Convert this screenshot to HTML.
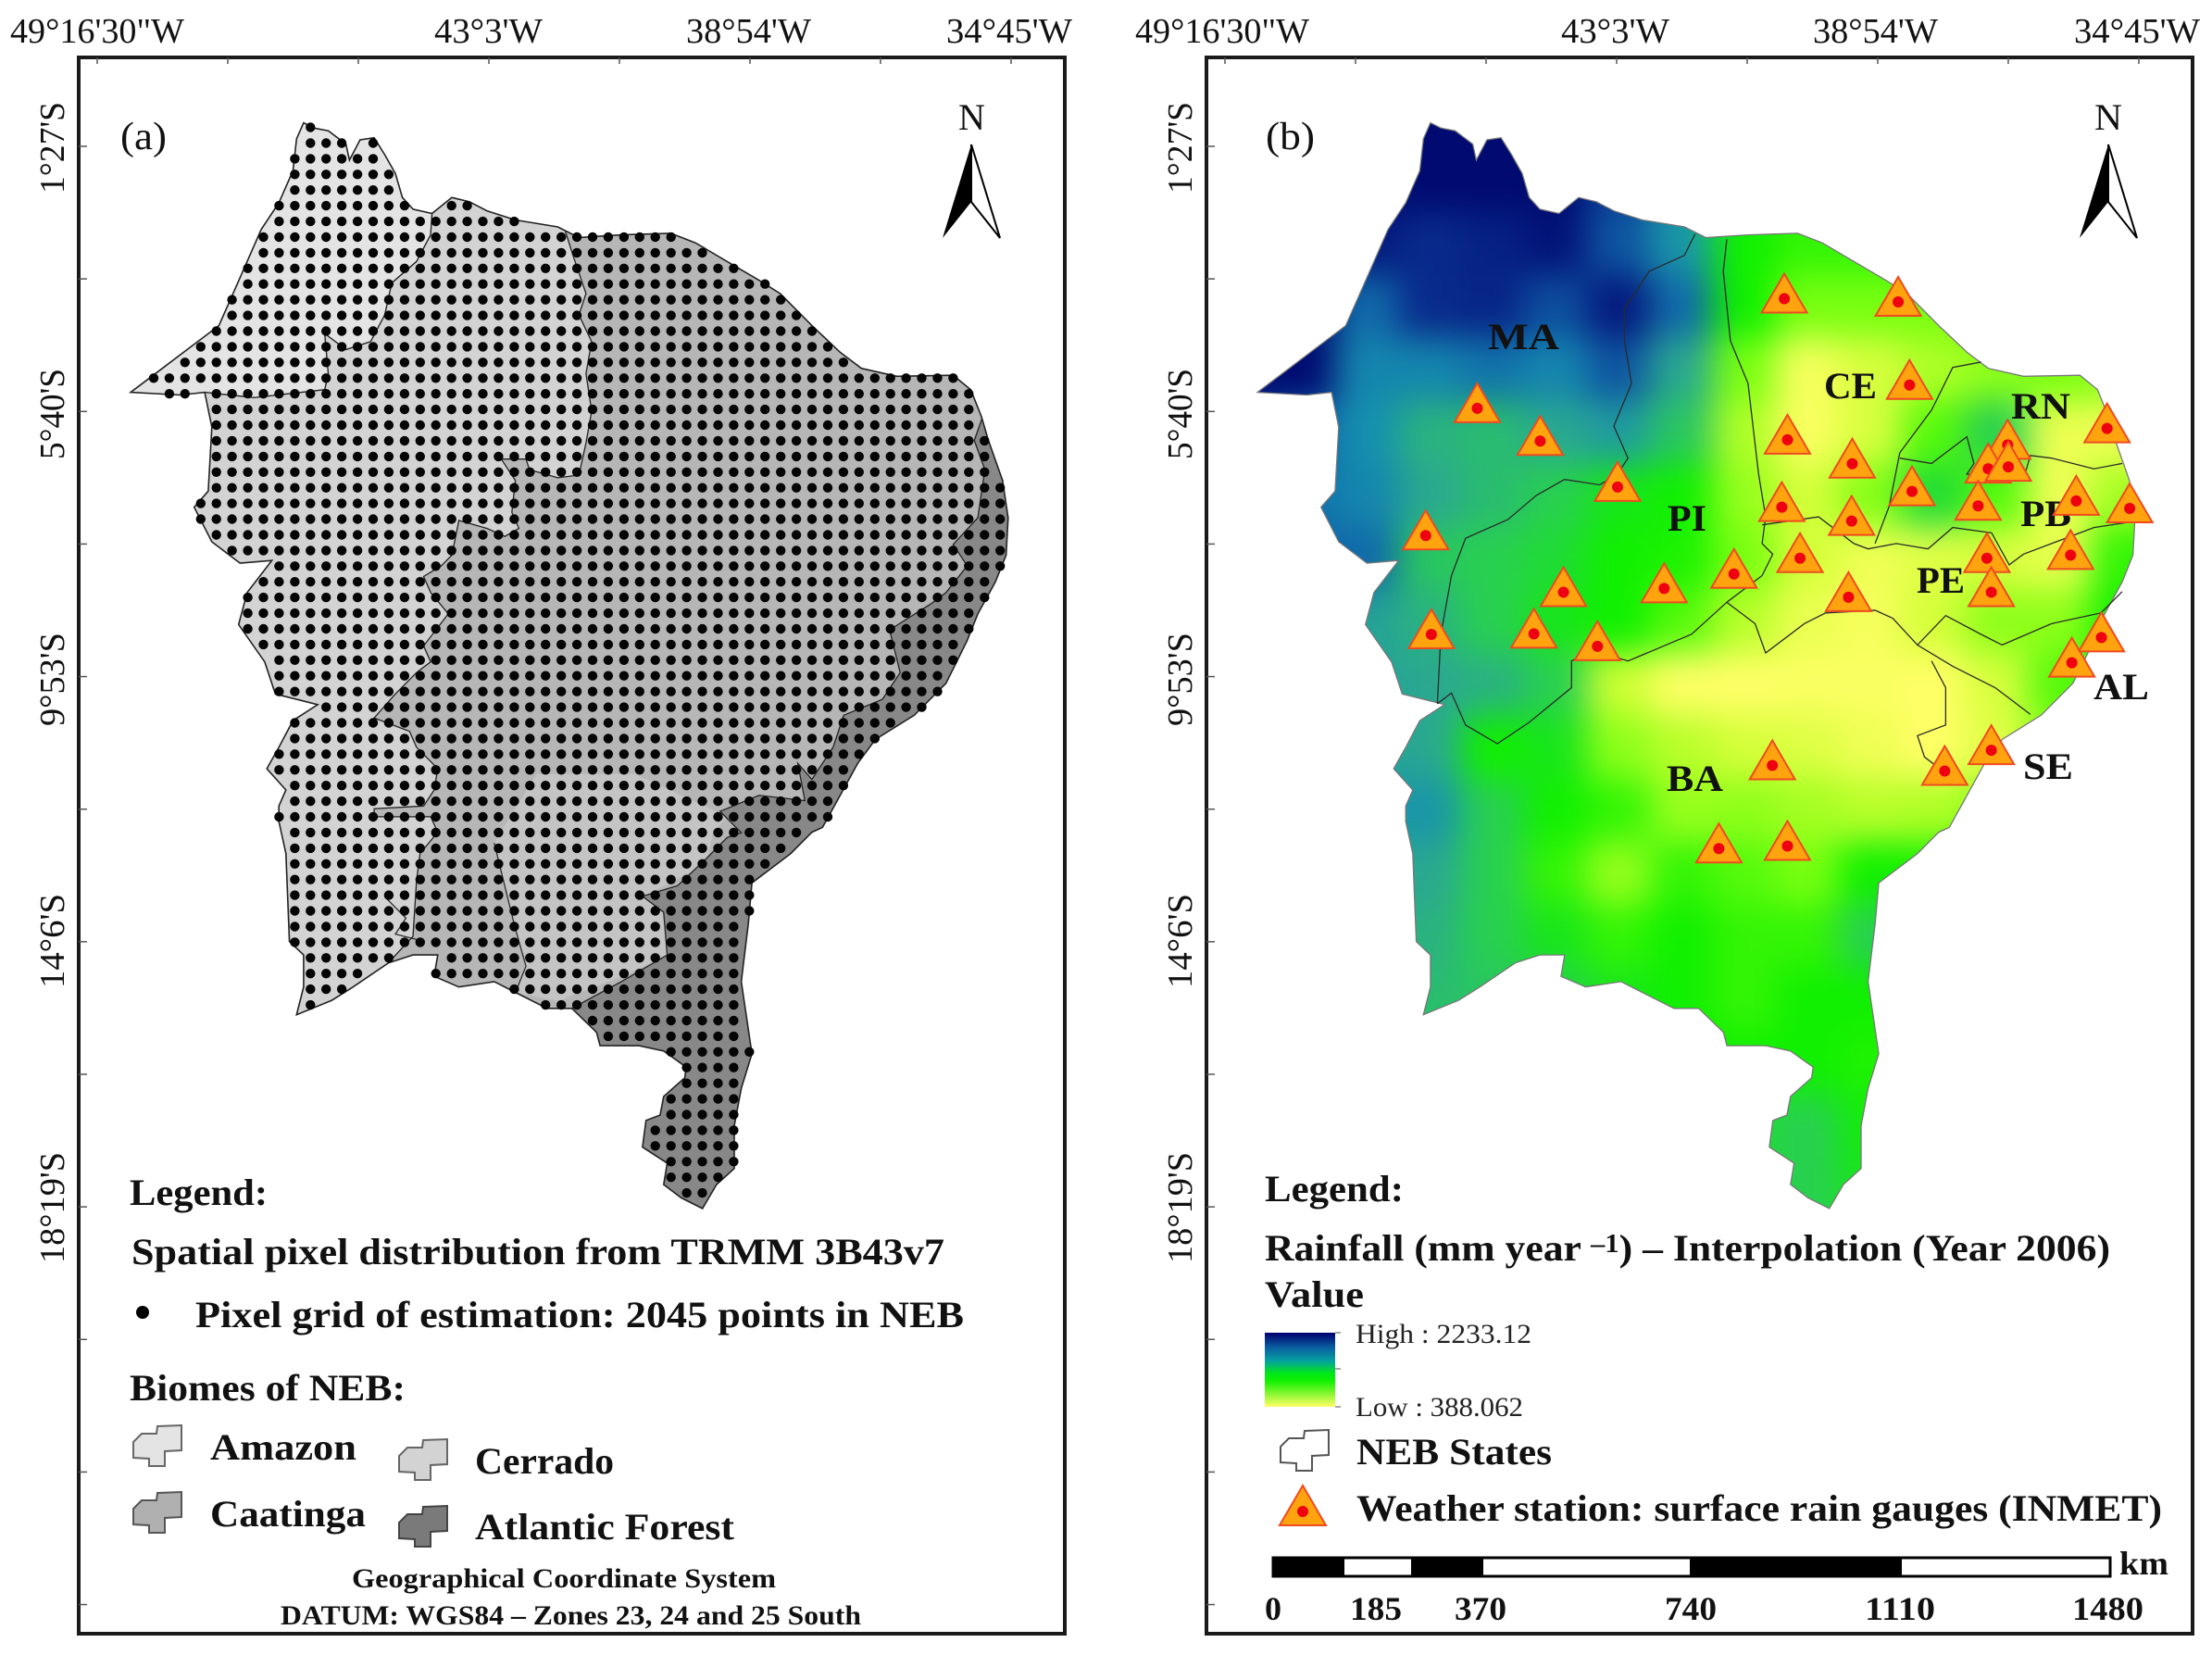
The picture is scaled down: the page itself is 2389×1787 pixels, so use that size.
<!DOCTYPE html>
<html lang="en">
<head>
<meta charset="utf-8">
<title>NEB biomes and rainfall maps</title>
<style>
html,body{margin:0;padding:0;background:#fff;}
svg{display:block;}
text{font-family:"Liberation Serif",serif;fill:#111;}
.ax{font-size:38px;}
.lg{font-size:40px;font-weight:700;}
.st{font-size:40px;font-weight:700;}
.sm{font-size:30px;font-weight:700;}
.sc{font-size:36px;font-weight:700;}
.reg{font-size:30px;fill:#222;}
.frame{fill:none;stroke:#1a1a1a;stroke-width:4;}
.border{fill:none;stroke:#2b2b2b;stroke-width:1.3;}
</style>
</head>
<body>
<svg id="fig" xmlns="http://www.w3.org/2000/svg" width="2389" height="1787" viewBox="0 0 2389 1787">
<defs>
<linearGradient id="ramp" x1="0" y1="0" x2="0" y2="1">
<stop offset="0" stop-color="#00006e"/><stop offset="0.2" stop-color="#0a5fa0"/><stop offset="0.38" stop-color="#04a0a0"/><stop offset="0.55" stop-color="#00e818"/><stop offset="0.65" stop-color="#10f000"/><stop offset="1" stop-color="#ffff66"/>
</linearGradient>
<clipPath id="clipA"><polygon id="clipPolyA"/></clipPath>
<clipPath id="clipB"><polygon id="clipPolyB"/></clipPath>
<filter id="soft" x="-10%" y="-10%" width="120%" height="120%" color-interpolation-filters="sRGB"><feGaussianBlur stdDeviation="19"/></filter>
</defs>
<rect width="2389" height="1787" fill="#fff"/>

<!-- Panel A -->
<g id="panelA">
  <rect class="frame" x="85" y="62" width="1065" height="1702"/>
  <g id="ticksA"></g>
  <g clip-path="url(#clipA)">
    <polygon id="baseA" fill="#b6b6b6"/>
    <g transform="matrix(0.7625 0 0 0.57637 0 0)">
      <polygon fill="#e4e4e4" stroke="#222" stroke-width="1.3" vector-effect="non-scaling-stroke" points="150,760 150,200 612,200 612,400 610,440 590,490 555,530 545,590 525,640 490,655 460,625 465,700 460,730 360,745 290,735"/>
      <polygon fill="#d3d3d3" stroke="#222" stroke-width="1.3" vector-effect="non-scaling-stroke" points="612,400 640,350 800,400 800,430 812,480 830,550 820,590 838,640 830,700 838,770 830,830 820,890 790,895 750,880 745,860 710,860 730,900 725,960 735,990 715,1005 690,990 650,975 640,1040 625,1060 600,1080 610,1110 635,1150 600,1210 610,1240 590,1260 560,1300 530,1345 580,1370 590,1400 620,1440 615,1480 600,1510 530,1515 530,1530 610,1530 620,1559 595,1599 590,1649 585,1754 550,1804 550,1950 250,1950 250,760 290,735 360,745 460,730 465,700 460,625 490,655 525,640 545,590 555,530 590,490 610,440"/>
      <polygon fill="#c4c4c4" points="700,1579 715,1660 730,1740 745,1810 730,1860 790,1875 880,1830 945,1790 940,1710 910,1680 1000,1620 1010,1560 1030,1530 900,1450 760,1450"/>
      <polygon fill="#888888" stroke="#222" stroke-width="1.3" vector-effect="non-scaling-stroke" points="1392,780 1380,825 1395,880 1385,970 1350,1020 1370,1060 1340,1110 1320,1130 1260,1180 1275,1260 1250,1310 1195,1340 1180,1400 1150,1460 1130,1430 1140,1500 1075,1490 1020,1520 1050,1560 1030,1569 1000,1609 960,1659 910,1679 940,1709 945,1789 880,1839 810,1889 850,2300 1100,2300 1500,1300 1500,780"/>
      <polyline class="border" vector-effect="non-scaling-stroke" points="700,1579 715,1660 730,1740 745,1810 730,1860"/>
      <polyline class="border" vector-effect="non-scaling-stroke" points="545,1680 575,1720 560,1750 590,1760"/>
    </g>
  </g>
  <polygon id="outlineA" fill="none" stroke="#222" stroke-width="1.6"/>
  <g id="dots" fill="#050505"></g>

  <text class="ax" x="11" y="46" textLength="188" lengthAdjust="spacingAndGlyphs">49°16'30"W</text>
  <text class="ax" x="469" y="46" textLength="117" lengthAdjust="spacingAndGlyphs">43°3'W</text>
  <text class="ax" x="741" y="46" textLength="135" lengthAdjust="spacingAndGlyphs">38°54'W</text>
  <text class="ax" x="1022" y="46" textLength="136" lengthAdjust="spacingAndGlyphs">34°45'W</text>
  <text class="ax" transform="translate(69 209) rotate(-90)" textLength="99" lengthAdjust="spacingAndGlyphs">1°27'S</text>
  <text class="ax" transform="translate(69 496) rotate(-90)" textLength="98" lengthAdjust="spacingAndGlyphs">5°40'S</text>
  <text class="ax" transform="translate(69 784) rotate(-90)" textLength="101" lengthAdjust="spacingAndGlyphs">9°53'S</text>
  <text class="ax" transform="translate(69 1067) rotate(-90)" textLength="102" lengthAdjust="spacingAndGlyphs">14°6'S</text>
  <text class="ax" transform="translate(69 1364) rotate(-90)" textLength="120" lengthAdjust="spacingAndGlyphs">18°19'S</text>

  <text x="130" y="161" font-size="42" textLength="50" lengthAdjust="spacingAndGlyphs">(a)</text>
  <g>
    <text x="1035" y="140" font-size="40" textLength="29" lengthAdjust="spacingAndGlyphs">N</text>
    <polygon points="1049,156 1018,257 1049,218" fill="#000"/>
    <polygon points="1049,156 1080,257 1049,218" fill="#fff" stroke="#000" stroke-width="2"/>
  </g>

  <text class="lg" x="140" y="1301" textLength="149" lengthAdjust="spacingAndGlyphs">Legend:</text>
  <text class="lg" x="142" y="1365" textLength="878" lengthAdjust="spacingAndGlyphs">Spatial pixel distribution from TRMM 3B43v7</text>
  <circle cx="154" cy="1417" r="7" fill="#000"/>
  <text class="lg" x="211" y="1433" textLength="830" lengthAdjust="spacingAndGlyphs">Pixel grid of estimation: 2045 points in NEB</text>
  <text class="lg" x="140" y="1512" textLength="298" lengthAdjust="spacingAndGlyphs">Biomes of NEB:</text>

  <polygon fill="#e4e4e4" stroke="#666" stroke-width="2" transform="translate(144 1539)" points="26,1 52,0 52,27 34,28 34,44 17,44 17,36 0,35 0,18 9,9 25,9"/>
  <polygon fill="#d3d3d3" stroke="#666" stroke-width="2" transform="translate(431 1554)" points="26,1 52,0 52,27 34,28 34,44 17,44 17,36 0,35 0,18 9,9 25,9"/>
  <polygon fill="#b0b0b0" stroke="#555" stroke-width="2" transform="translate(144 1611)" points="26,1 52,0 52,27 34,28 34,44 17,44 17,36 0,35 0,18 9,9 25,9"/>
  <polygon fill="#7a7a7a" stroke="#444" stroke-width="2" transform="translate(431 1626)" points="26,1 52,0 52,27 34,28 34,44 17,44 17,36 0,35 0,18 9,9 25,9"/>
  <text class="lg" x="227" y="1576" textLength="158" lengthAdjust="spacingAndGlyphs">Amazon</text>
  <text class="lg" x="513" y="1591" textLength="150" lengthAdjust="spacingAndGlyphs">Cerrado</text>
  <text class="lg" x="227" y="1648" textLength="168" lengthAdjust="spacingAndGlyphs">Caatinga</text>
  <text class="lg" x="513" y="1662" textLength="280" lengthAdjust="spacingAndGlyphs">Atlantic Forest</text>
  <text class="sm" x="380" y="1714" textLength="458" lengthAdjust="spacingAndGlyphs">Geographical Coordinate System</text>
  <text class="sm" x="303" y="1754" textLength="627" lengthAdjust="spacingAndGlyphs">DATUM: WGS84 – Zones 23, 24 and 25 South</text>
</g>

<!-- Panel B -->
<g id="panelB">
  <rect class="frame" x="1303" y="62" width="1065" height="1702"/>
  <g id="ticksB"></g>
  <g clip-path="url(#clipB)">
    <g id="heat" filter="url(#soft)"></g>
  </g>
  <polygon id="outlineB" fill="none" stroke="#777" stroke-width="1.3"/>
  <g transform="matrix(0.7625 0 0 0.57637 1194 -1)">
    <polyline class="border" vector-effect="non-scaling-stroke" points="835,440 820,480 770,510 735,580 735,640 745,720 720,800 740,860 725,890 700,910 650,900 610,930 570,975 510,1010 490,1080 475,1190 470,1320"/>
    <polyline class="border" vector-effect="non-scaling-stroke" points="470,1320 490,1300 510,1360 555,1395 600,1355 660,1290 660,1240 690,1220 740,1240 830,1190 880,1130 920,1170 935,1225 990,1170 1020,1150 1090,1145 1115,1160 1150,1210 1190,1155 1240,1190 1270,1210 1340,1170 1410,1150 1440,1110"/>
    <polyline class="border" vector-effect="non-scaling-stroke" points="880,450 875,510 885,640 910,720 925,890 935,970 930,1020 945,1040 930,1080 880,1130"/>
    <polyline class="border" vector-effect="non-scaling-stroke" points="930,985 1010,970 1060,1020 1080,1030 1120,1020 1165,1030 1200,990 1255,1000 1280,1060 1300,1040 1340,1020 1400,990 1450,980"/>
    <polyline class="border" vector-effect="non-scaling-stroke" points="1240,680 1200,690 1170,770 1125,850 1110,950 1090,1020"/>
    <polyline class="border" vector-effect="non-scaling-stroke" points="1125,860 1170,870 1220,820 1230,870 1220,890 1300,900 1310,855 1340,860 1400,880 1440,870"/>
    <polyline class="border" vector-effect="non-scaling-stroke" points="1150,1210 1200,1250 1260,1290 1310,1340"/>
    <polyline class="border" vector-effect="non-scaling-stroke" points="1170,1240 1190,1290 1190,1360 1150,1380 1160,1420 1190,1450"/>
  </g>

  <text class="st" x="1607" y="377" textLength="77" lengthAdjust="spacingAndGlyphs">MA</text>
  <text class="st" x="1970" y="430" textLength="57" lengthAdjust="spacingAndGlyphs">CE</text>
  <text class="st" x="2172" y="452" textLength="64" lengthAdjust="spacingAndGlyphs">RN</text>
  <text class="st" x="1801" y="573" textLength="42" lengthAdjust="spacingAndGlyphs">PI</text>
  <text class="st" x="2182" y="568" textLength="55" lengthAdjust="spacingAndGlyphs">PB</text>
  <text class="st" x="2070" y="640" textLength="52" lengthAdjust="spacingAndGlyphs">PE</text>
  <text class="st" x="2261" y="755" textLength="60" lengthAdjust="spacingAndGlyphs">AL</text>
  <text class="st" x="1800" y="854" textLength="61" lengthAdjust="spacingAndGlyphs">BA</text>
  <text class="st" x="2185" y="841" textLength="54" lengthAdjust="spacingAndGlyphs">SE</text>

  <g id="stations"></g>

  <text class="ax" x="1226" y="46" textLength="188" lengthAdjust="spacingAndGlyphs">49°16'30"W</text>
  <text class="ax" x="1686" y="46" textLength="117" lengthAdjust="spacingAndGlyphs">43°3'W</text>
  <text class="ax" x="1958" y="46" textLength="135" lengthAdjust="spacingAndGlyphs">38°54'W</text>
  <text class="ax" x="2240" y="46" textLength="136" lengthAdjust="spacingAndGlyphs">34°45'W</text>
  <text class="ax" transform="translate(1287 209) rotate(-90)" textLength="99" lengthAdjust="spacingAndGlyphs">1°27'S</text>
  <text class="ax" transform="translate(1287 496) rotate(-90)" textLength="98" lengthAdjust="spacingAndGlyphs">5°40'S</text>
  <text class="ax" transform="translate(1287 784) rotate(-90)" textLength="101" lengthAdjust="spacingAndGlyphs">9°53'S</text>
  <text class="ax" transform="translate(1287 1067) rotate(-90)" textLength="102" lengthAdjust="spacingAndGlyphs">14°6'S</text>
  <text class="ax" transform="translate(1287 1364) rotate(-90)" textLength="120" lengthAdjust="spacingAndGlyphs">18°19'S</text>

  <text x="1367" y="161" font-size="42" textLength="53" lengthAdjust="spacingAndGlyphs">(b)</text>
  <g>
    <text x="2262" y="140" font-size="40" textLength="30" lengthAdjust="spacingAndGlyphs">N</text>
    <polygon points="2277,156 2246,257 2277,218" fill="#000"/>
    <polygon points="2277,156 2308,257 2277,218" fill="#fff" stroke="#000" stroke-width="2"/>
  </g>

  <text class="lg" x="1366" y="1297" textLength="150" lengthAdjust="spacingAndGlyphs">Legend:</text>
  <text class="lg" x="1366" y="1361" textLength="913" lengthAdjust="spacingAndGlyphs">Rainfall (mm year <tspan font-size="28" dy="-9">–1</tspan><tspan dy="9">) – Interpolation (Year 2006)</tspan></text>
  <text class="lg" x="1366" y="1411" textLength="107" lengthAdjust="spacingAndGlyphs">Value</text>
  <rect x="1366" y="1439" width="76" height="80" fill="url(#ramp)"/>
  <path d="M1442 1439h6M1442 1478h6M1442 1519h6" stroke="#888" stroke-width="1.5"/>
  <text class="reg" x="1464" y="1450" textLength="190" lengthAdjust="spacingAndGlyphs">High : 2233.12</text>
  <text class="reg" x="1464" y="1529" textLength="181" lengthAdjust="spacingAndGlyphs">Low : 388.062</text>
  <polygon fill="#fff" stroke="#555" stroke-width="2" transform="translate(1383 1544)" points="26,1 52,0 52,27 34,28 34,44 17,44 17,36 0,35 0,18 9,9 25,9"/>
  <text class="lg" x="1465" y="1581" textLength="211" lengthAdjust="spacingAndGlyphs">NEB States</text>
  <g>
    <polygon points="1407,1604 1382,1647 1432,1647" fill="#ffa40f" stroke="#f04a20" stroke-width="2"/>
    <circle cx="1407" cy="1632" r="6" fill="#ee0011"/>
  </g>
  <text class="lg" x="1465" y="1642" textLength="870" lengthAdjust="spacingAndGlyphs">Weather station: surface rain gauges (INMET)</text>

  <g>
    <rect x="1375" y="1682" width="904" height="20" fill="#fff" stroke="#000" stroke-width="3"/>
    <rect x="1375" y="1681" width="77" height="22" fill="#000"/>
    <rect x="1524" y="1681" width="78" height="22" fill="#000"/>
    <rect x="1825" y="1681" width="229" height="22" fill="#000"/>
  </g>
  <text class="sc" x="2289" y="1700" textLength="53" lengthAdjust="spacingAndGlyphs">km</text>
  <text class="sc" x="1366" y="1749" textLength="18" lengthAdjust="spacingAndGlyphs">0</text>
  <text class="sc" x="1458" y="1749" textLength="56" lengthAdjust="spacingAndGlyphs">185</text>
  <text class="sc" x="1571" y="1749" textLength="56" lengthAdjust="spacingAndGlyphs">370</text>
  <text class="sc" x="1798" y="1749" textLength="56" lengthAdjust="spacingAndGlyphs">740</text>
  <text class="sc" x="2014" y="1749" textLength="76" lengthAdjust="spacingAndGlyphs">1110</text>
  <text class="sc" x="2238" y="1749" textLength="77" lengthAdjust="spacingAndGlyphs">1480</text>
</g>
</svg>

<script>
// ---- Data ----
const lonTicks = [-49.275,-47.2,-45.125,-43.05,-40.975,-38.9,-36.825,-34.75];
const latTicks = [-1.45,-3.555,-5.66,-7.765,-9.87,-11.975,-14.08,-16.185,-18.29,-20.395,-22.5,-24.605];

const stationLon = [-40.37,-38.56,-38.38,-45.25,-44.25,-35.24,-40.32,-39.29,-36.82,-37.13,-36.81,-43.02,-38.34,-37.29,-40.41,-39.30,-35.73,-34.88,-46.07,-40.12,-37.15,-35.82,-41.17,-43.88,-42.28,-37.08,-39.35,-45.98,-44.35,-43.34,-35.33,-35.80,-37.08,-40.56,-37.82,-41.41,-40.32];
const stationLat = [-3.87,-3.92,-5.24,-5.61,-6.13,-5.93,-6.11,-6.49,-6.19,-6.57,-6.54,-6.86,-6.93,-7.16,-7.18,-7.40,-7.08,-7.20,-7.63,-7.99,-7.99,-7.94,-8.24,-8.53,-8.47,-8.53,-8.61,-9.20,-9.19,-9.39,-9.25,-9.65,-11.04,-11.28,-11.37,-12.60,-12.56];

// Rainfall (mm/yr) estimated on a 1 degree grid
const rainLons = [-49,-48,-47,-46,-45,-44,-43,-42,-41,-40,-39,-38,-37,-36,-35,-34];
const rainLats = [0,-1,-2,-3,-4,-5,-6,-7,-8,-9,-10,-11,-12,-13,-14,-15,-16,-17,-18,-19];
const rainfall = [
[2233,2233,2233,2233,2233,2233,2000,1600,1000,950,950,950,900,850,800,800],
[2233,2233,2233,2233,2233,2233,2000,1600,1000,950,950,950,900,850,800,800],
[2233,2233,2233,2233,2233,2233,1950,1500,1000,950,950,950,900,850,800,800],
[2233,2233,2150,2050,2100,2180,1850,1500,1000,950,950,950,900,850,800,800],
[2233,2233,1750,2050,2080,1880,2150,1750,1000,850,850,850,850,850,800,800],
[2233,2233,1600,1600,1700,1600,1850,1350,850,470,600,720,800,850,800,800],
[2000,1800,1550,1300,1250,1350,1450,1200,720,450,600,900,1150,520,500,500],
[1800,1700,1600,1350,1250,1150,1050,1000,780,620,820,1100,900,500,750,750],
[1800,1800,1750,1200,1150,1100,1000,980,850,620,500,560,600,540,950,950],
[1500,1500,1400,1300,1150,1050,1000,900,700,520,470,620,800,800,1000,1000],
[1400,1400,1400,1350,1300,1150,650,440,400,450,450,420,600,900,950,950],
[1400,1400,1400,1350,1000,1050,800,700,620,580,500,420,560,800,900,900],
[1500,1500,1500,1500,1150,1000,950,780,800,750,700,720,800,800,800,800],
[1350,1350,1350,1350,1150,950,780,950,900,850,1000,1000,1000,1000,1000,1000],
[1300,1300,1300,1300,1150,1050,950,1000,950,950,1150,1150,1150,1150,1150,1150],
[1250,1250,1250,1250,1200,1150,1050,1000,950,1000,1000,1000,1000,1000,1000,1000],
[1100,1100,1100,1100,1100,1100,1050,1050,1000,1000,980,980,980,980,980,980],
[1100,1100,1100,1100,1100,1100,1100,1100,1100,1150,1020,1020,1020,1020,1020,1020],
[1100,1100,1100,1100,1100,1100,1100,1100,1100,1150,1050,1050,1050,1050,1050,1050],
[1100,1100,1100,1100,1100,1100,1100,1100,1100,1150,1050,1050,1050,1050,1050,1050]
];
const rampValues = [430,650,850,1000,1150,1350,1550,1800,2050,2233];
const rampColors = [[255,255,102],[205,255,50],[120,255,16],[16,240,0],[40,208,80],[42,168,144],[21,144,176],[16,96,168],[8,42,140],[0,10,112]];

// NEB outline, traced in trace units (converted below)
const outlineTrace = [430,230,445,240,465,245,490,270,495,300,510,262,530,258,545,290,560,325,570,370,585,392,612,400,640,370,665,378,690,395,730,412,790,425,820,445,880,440,950,437,985,455,1030,490,1075,525,1105,550,1150,610,1190,660,1220,690,1270,705,1350,703,1375,730,1390,780,1400,825,1420,900,1428,970,1425,1040,1410,1090,1385,1150,1370,1200,1340,1280,1295,1340,1240,1385,1215,1430,1190,1490,1165,1550,1150,1559,1120,1599,1065,1654,1060,1729,1050,1839,1065,1974,1050,2039,1040,2109,1040,2189,1015,2219,995,2264,965,2244,940,2219,945,2179,910,2149,915,2099,935,2089,940,2054,970,2019,972,1999,940,1969,905,1959,850,1959,845,1934,810,1889,775,1889,730,1859,700,1839,650,1849,615,1829,620,1789,585,1789,550,1804,500,1849,470,1874,420,1901,430,1849,430,1789,410,1764,408,1699,405,1599,395,1539,395,1510,405,1480,378,1440,395,1400,415,1350,450,1320,390,1300,375,1240,338,1170,350,1110,385,1050,340,1055,300,1015,275,950,295,920,300,800,290,735,255,740,185,735,230,690,270,650,310,610,340,520,370,430,395,380,415,320,420,260];

// ---- Axis functions ----
function lonX(lon){ return 105 + (lon + 49.275) * 67.95; }
function latY(lat){ return 158 + (-1.45 - lat) * 68.0; }
function traceX(v){ return v * 0.7625; }
function traceY(v){ return v * 0.57637; }
const PANEL_B = 1217;
const SVGNS = 'http://www.w3.org/2000/svg';

function rainColor(v){
  let i = 0;
  while(i < rampValues.length - 2 && v > rampValues[i+1]) i++;
  let t = (v - rampValues[i]) / (rampValues[i+1] - rampValues[i]);
  t = Math.max(0, Math.min(1, t));
  const c = rampColors[i].map(function(a,k){ return Math.round(a + (rampColors[i+1][k] - a) * t); });
  return 'rgb(' + c.join(',') + ')';
}

// ---- Outline ----
const outlinePx = [];
for(let i = 0; i < outlineTrace.length; i += 2){
  outlinePx.push([traceX(outlineTrace[i]), traceY(outlineTrace[i+1])]);
}
const ptsA = outlinePx.map(function(p){ return p[0].toFixed(1) + ',' + p[1].toFixed(1); }).join(' ');
const ptsB = outlinePx.map(function(p){ return (p[0] + PANEL_B).toFixed(1) + ',' + p[1].toFixed(1); }).join(' ');
document.getElementById('clipPolyA').setAttribute('points', ptsA);
document.getElementById('baseA').setAttribute('points', ptsA);
document.getElementById('outlineA').setAttribute('points', ptsA);
document.getElementById('clipPolyB').setAttribute('points', ptsB);
document.getElementById('outlineB').setAttribute('points', ptsB);

function inside(x, y){
  let c = false;
  for(let i = 0, j = outlinePx.length - 1; i < outlinePx.length; j = i++){
    const a = outlinePx[i], b = outlinePx[j];
    if((a[1] > y) !== (b[1] > y) && x < (b[0] - a[0]) * (y - a[1]) / (b[1] - a[1]) + a[0]) c = !c;
  }
  return c;
}

// ---- Ticks ----
function drawTicks(id, offset){
  const g = document.getElementById(id);
  lonTicks.forEach(function(lon){
    const t = document.createElementNS(SVGNS, 'line');
    
    
    t.setAttribute('x1', lonX(lon) + offset);
    t.setAttribute('x2', lonX(lon) + offset);
    t.setAttribute('y1', 62);
    t.setAttribute('y2', 69);
    t.setAttribute('stroke', '#555');
    t.setAttribute('stroke-width', '1.5');
    g.appendChild(t);
  });
  latTicks.forEach(function(lat){
    const t = document.createElementNS(SVGNS, 'line');
    
    
    t.setAttribute('x1', 85 + offset);
    t.setAttribute('x2', 94 + offset);
    t.setAttribute('y1', latY(lat));
    t.setAttribute('y2', latY(lat));
    t.setAttribute('stroke', '#555');
    t.setAttribute('stroke-width', '1.5');
    g.appendChild(t);
  });
}
drawTicks('ticksA', 0);
drawTicks('ticksB', 1218);

// ---- TRMM pixel grid dots (0.25 degree cells) ----
const dots = document.getElementById('dots');
const gridLonStep = 16.93 / 67.95, gridLatStep = 16.92 / 68.0;
const gridLon0 = -49.275 + (572.3 - 105) / 67.95;
const gridLat0 = -1.45 - (526.7 - 158) / 68.0;
for(let j = -30; j < 75; j++){
  for(let i = -40; i < 40; i++){
    const x = lonX(gridLon0 + i * gridLonStep);
    const y = latY(gridLat0 - j * gridLatStep);
    if(inside(x, y)){
      const d = document.createElementNS(SVGNS, 'circle');
      
      
      d.setAttribute('cx', x.toFixed(1));
      d.setAttribute('cy', y.toFixed(1));
      d.setAttribute('r', '5.2');
      dots.appendChild(d);
    }
  }
}

// ---- Rainfall surface ----
const heat = document.getElementById('heat');
rainLats.forEach(function(lat, r){
  rainLons.forEach(function(lon, c){
    const cell = document.createElementNS(SVGNS, 'rect');
    
    
    cell.setAttribute('x', (lonX(lon - 0.5) + PANEL_B - 0.5).toFixed(1));
    cell.setAttribute('y', (latY(lat + 0.5) - 0.5).toFixed(1));
    cell.setAttribute('width', '69');
    cell.setAttribute('height', '69');
    cell.setAttribute('fill', rainColor(rainfall[r][c]));
    heat.appendChild(cell);
  });
});

// ---- Stations ----
const stationsG = document.getElementById('stations');
stationLon.forEach(function(lon, i){
  const x = lonX(lon) + PANEL_B, y = latY(stationLat[i]);
  const tri = document.createElementNS(SVGNS, 'polygon');
  
  
  tri.setAttribute('points', x + ',' + (y - 27) + ' ' + (x - 24.5) + ',' + (y + 15) + ' ' + (x + 24.5) + ',' + (y + 15));
  tri.setAttribute('fill', '#ffa40f');
  tri.setAttribute('stroke', '#f04a20');
  tri.setAttribute('stroke-width', '2');
  stationsG.appendChild(tri);
  const dot = document.createElementNS(SVGNS, 'circle');
  
  
  dot.setAttribute('cx', x);
  dot.setAttribute('cy', y);
  dot.setAttribute('r', '6');
  dot.setAttribute('fill', '#ee0011');
  stationsG.appendChild(dot);
});
</script>
</body>
</html>
